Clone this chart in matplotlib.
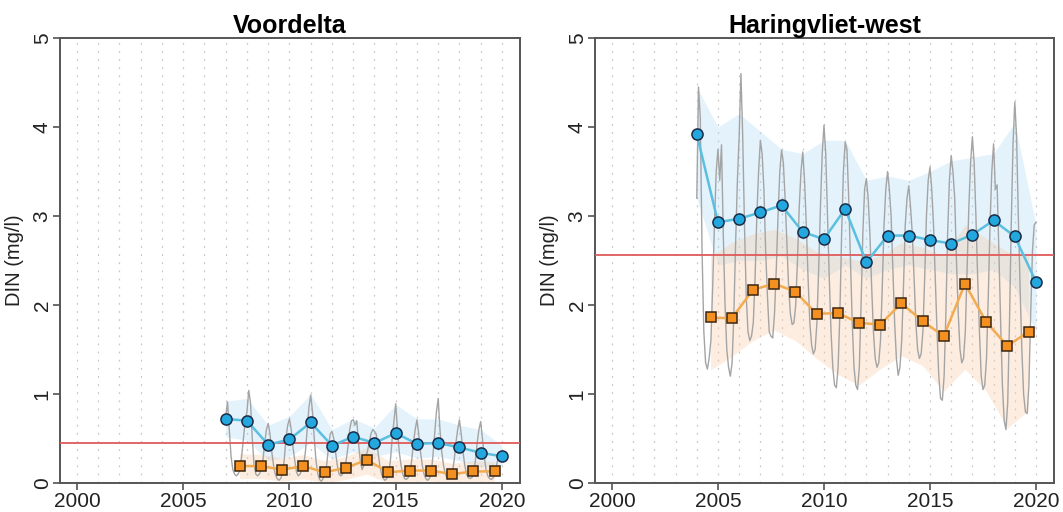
import matplotlib.pyplot as plt
import numpy as np

plt.rcParams['font.family'] = ['Liberation Sans', 'DejaVu Sans']

# ---- Voordelta ----
vd_years = [2007, 2008, 2009, 2010, 2011, 2012, 2013, 2014, 2015, 2016, 2017, 2018, 2019, 2020]
vd_winter = [0.72, 0.70, 0.43, 0.49, 0.68, 0.42, 0.52, 0.45, 0.56, 0.44, 0.45, 0.40, 0.34, 0.30]
vd_winter_hi = [0.92, 0.95, 0.65, 0.75, 1.00, 0.60, 0.72, 0.62, 0.88, 0.72, 0.72, 0.65, 0.60, 0.42]
vd_winter_lo = [0.52, 0.48, 0.25, 0.30, 0.45, 0.27, 0.35, 0.30, 0.35, 0.28, 0.30, 0.25, 0.18, 0.20]
vd_summer_years = [2007.65, 2008.65, 2009.65, 2010.65, 2011.65, 2012.65, 2013.65,
                   2014.65, 2015.65, 2016.65, 2017.65, 2018.65, 2019.65]
vd_summer = [0.19, 0.19, 0.15, 0.19, 0.12, 0.17, 0.26, 0.12, 0.14, 0.14, 0.10, 0.13, 0.13]
vd_summer_hi = [0.33, 0.32, 0.28, 0.32, 0.25, 0.30, 0.40, 0.25, 0.27, 0.27, 0.22, 0.25, 0.24]
vd_summer_lo = [0.05, 0.05, 0.02, 0.05, 0.00, 0.04, 0.10, 0.00, 0.02, 0.02, 0.00, 0.01, 0.02]
vd_norm = 0.45
vd_monthly_start = 2007
vd_monthly = [
    0.75, 0.91, 0.60, 0.30, 0.15, 0.10, 0.08, 0.10, 0.15, 0.30, 0.50, 0.70,  # 2007
    0.80, 1.04, 0.90, 0.50, 0.20, 0.10, 0.08, 0.10, 0.15, 0.25, 0.45, 0.60,  # 2008
    0.67, 0.55, 0.35, 0.20, 0.10, 0.05, 0.03, 0.05, 0.10, 0.25, 0.50, 0.65,  # 2009
    0.72, 0.60, 0.40, 0.25, 0.12, 0.08, 0.10, 0.15, 0.20, 0.35, 0.60, 0.85,  # 2010
    0.99, 0.80, 0.50, 0.25, 0.10, 0.04, 0.02, 0.05, 0.10, 0.20, 0.40, 0.55,  # 2011
    0.58, 0.50, 0.35, 0.20, 0.10, 0.08, 0.10, 0.15, 0.25, 0.40, 0.60, 0.70,  # 2012
    0.71, 0.65, 0.70, 0.45, 0.25, 0.15, 0.20, 0.30, 0.35, 0.45, 0.55, 0.60,  # 2013
    0.58, 0.55, 0.35, 0.20, 0.10, 0.05, 0.03, 0.05, 0.10, 0.25, 0.50, 0.70,  # 2014
    0.89, 0.60, 0.35, 0.20, 0.10, 0.05, 0.04, 0.06, 0.10, 0.25, 0.45, 0.60,  # 2015
    0.71, 0.55, 0.35, 0.20, 0.10, 0.05, 0.03, 0.05, 0.10, 0.30, 0.55, 0.80,  # 2016
    0.95, 0.60, 0.35, 0.20, 0.10, 0.06, 0.05, 0.06, 0.12, 0.25, 0.45, 0.60,  # 2017
    0.71, 0.55, 0.35, 0.20, 0.10, 0.06, 0.05, 0.06, 0.10, 0.25, 0.45, 0.60,  # 2018
    0.69, 0.50, 0.30, 0.15, 0.08, 0.05, 0.04, 0.06, 0.10, 0.20, 0.30, 0.35,  # 2019
    0.35,                                                                    # 2020
]

# ---- Haringvliet-west ----
hw_years = [2004, 2005, 2006, 2007, 2008, 2009, 2010, 2011, 2012, 2013, 2014, 2015, 2016,
            2017, 2018, 2019, 2020]
hw_winter = [3.92, 2.93, 2.97, 3.04, 3.12, 2.82, 2.74, 3.08, 2.48, 2.78, 2.78, 2.73, 2.69,
             2.79, 2.95, 2.77, 2.26]
hw_winter_hi = [4.45, 4.00, 4.15, 3.95, 3.75, 3.70, 3.85, 3.85, 3.40, 3.45, 3.40, 3.50, 3.62,
                3.66, 3.70, 4.05, 2.90]
hw_winter_lo = [3.20, 2.45, 2.50, 2.50, 2.55, 2.40, 2.30, 2.45, 2.30, 2.40, 2.45, 2.40, 2.35,
                2.35, 2.40, 2.20, 1.70]
hw_summer_years = [2004.65, 2005.65, 2006.65, 2007.65, 2008.65, 2009.65, 2010.65, 2011.65,
                   2012.65, 2013.65, 2014.65, 2015.65, 2016.65, 2017.65, 2018.65, 2019.65]
hw_summer = [1.86, 1.85, 2.17, 2.24, 2.15, 1.90, 1.91, 1.80, 1.78, 2.02, 1.82, 1.65, 2.24,
             1.81, 1.54, 1.70]
hw_summer_hi = [2.55, 2.70, 2.80, 2.85, 2.75, 2.60, 2.55, 2.50, 2.55, 2.70, 2.65, 2.55, 2.90,
                2.75, 2.60, 2.55]
hw_summer_lo = [1.27, 1.42, 1.60, 1.72, 1.60, 1.40, 1.22, 1.10, 1.28, 1.43, 1.32, 1.03, 1.28,
                1.03, 0.62, 0.81]
hw_norm = 2.56
hw_monthly_start = 2004
hw_monthly = [
    3.20, 4.45, 4.10, 2.60, 1.70, 1.35, 1.28, 1.40, 1.60, 2.20, 2.90, 3.50,  # 2004
    3.75, 3.40, 3.80, 2.80, 2.00, 1.50, 1.30, 1.20, 1.35, 1.90, 2.70, 3.40,  # 2005
    3.90, 4.60, 3.90, 2.90, 2.10, 1.70, 1.60, 1.65, 1.80, 2.30, 3.00, 3.50,  # 2006
    3.85, 3.70, 3.30, 2.60, 2.10, 1.70, 1.65, 1.63, 1.90, 2.40, 3.00, 3.50,  # 2007
    3.74, 3.60, 3.20, 2.70, 2.20, 1.90, 1.78, 1.80, 2.00, 2.50, 3.10, 3.50,  # 2008
    3.72, 3.40, 2.90, 2.30, 1.80, 1.55, 1.45, 1.50, 1.80, 2.40, 3.10, 3.70,  # 2009
    4.02, 3.70, 3.00, 2.30, 1.70, 1.30, 1.10, 1.07, 1.30, 1.90, 2.80, 3.50,  # 2010
    3.83, 3.75, 3.20, 2.50, 1.80, 1.30, 1.10, 1.05, 1.30, 2.00, 2.80, 3.30,  # 2011
    3.42, 3.20, 2.80, 2.20, 1.70, 1.40, 1.30, 1.35, 1.60, 2.20, 2.90, 3.30,  # 2012
    3.50, 3.30, 3.00, 2.40, 1.80, 1.40, 1.21, 1.30, 1.60, 2.20, 2.90, 3.20,  # 2013
    3.34, 3.10, 2.80, 2.30, 1.80, 1.50, 1.40, 1.45, 1.70, 2.30, 3.00, 3.40,  # 2014
    3.55, 3.30, 2.90, 2.30, 1.70, 1.20, 0.95, 0.93, 1.20, 1.90, 2.80, 3.40,  # 2015
    3.68, 3.50, 3.20, 2.50, 1.90, 1.50, 1.35, 1.40, 1.70, 2.40, 3.10, 3.60,  # 2016
    3.89, 3.60, 3.00, 2.30, 1.70, 1.20, 1.05, 1.10, 1.40, 2.10, 2.90, 3.50,  # 2017
    3.81, 3.30, 3.35, 2.60, 1.80, 1.10, 0.70, 0.60, 0.90, 1.80, 2.90, 3.80,  # 2018
    4.28, 3.90, 3.00, 2.20, 1.50, 1.00, 0.80, 0.78, 1.10, 1.90, 2.60, 2.90,  # 2019
    2.93,                                                                    # 2020
]

grid_years = list(range(2000, 2021))
x_ticks = [2000, 2005, 2010, 2015, 2020]
y_ticks = [0, 1, 2, 3, 4, 5]

W, H = 1063, 512
fig = plt.figure(figsize=(W / 100, H / 100), dpi=100)


def panel(rect, title, years, winter, whi, wlo, syears, summer, shi, slo, norm, mstart, monthly):
    ax = fig.add_axes(rect)
    for g in grid_years:
        ax.axvline(g, color='#c8c8c8', lw=0.9, ls=(0, (1.5, 5)), zorder=0)
    ax.fill_between(years, wlo, whi, color='#a8d8f5', alpha=0.32, lw=0, zorder=1)
    ax.fill_between(syears, slo, shi, color='#f8c9a0', alpha=0.32, lw=0, zorder=1)
    t = mstart + np.arange(len(monthly)) / 12.0
    ax.plot(t, monthly, color='#a4a4a4', lw=1.0, zorder=2)
    ax.axhline(norm, color='#e05a5a', lw=1.3, zorder=3)
    ax.plot(years, winter, color='#5bbfe0', lw=1.8, marker='o', ms=8,
            mfc='#22a7df', mec='#1b2b45', mew=1.1, zorder=5)
    ax.plot(syears, summer, color='#f2ab50', lw=1.8, marker='s', ms=7,
            mfc='#f39020', mec='#3a2510', mew=1.1, zorder=5)
    ax.set_xlim(1999.2, 2020.85)
    ax.set_ylim(0, 5)
    ax.set_xticks(x_ticks)
    ax.set_yticks(y_ticks)
    ax.tick_params(axis='both', labelsize=15, length=5, width=1.1, color='#444444',
                   labelcolor='#222222')
    ax.tick_params(axis='x', pad=1.5)
    ax.tick_params(axis='y', pad=1)
    for lab in ax.get_yticklabels():
        lab.set_rotation(90)
        lab.set_va('center')
    for s in ax.spines.values():
        s.set_color('#555555')
        s.set_linewidth(1.4)
    ax.set_ylabel('DIN (mg/l)', fontsize=14.5, color='#222222', labelpad=6)
    ax.set_title(title, fontsize=18, fontweight='bold', pad=3)
    return ax


panel([60 / W, 29 / H, 460 / W, 445 / H], 'Voordelta',
      vd_years, vd_winter, vd_winter_hi, vd_winter_lo,
      vd_summer_years, vd_summer, vd_summer_hi, vd_summer_lo,
      vd_norm, vd_monthly_start, vd_monthly)
panel([595 / W, 29 / H, 459 / W, 445 / H], 'Haringvliet-west',
      hw_years, hw_winter, hw_winter_hi, hw_winter_lo,
      hw_summer_years, hw_summer, hw_summer_hi, hw_summer_lo,
      hw_norm, hw_monthly_start, hw_monthly)

plt.savefig('out.png', dpi=100)
